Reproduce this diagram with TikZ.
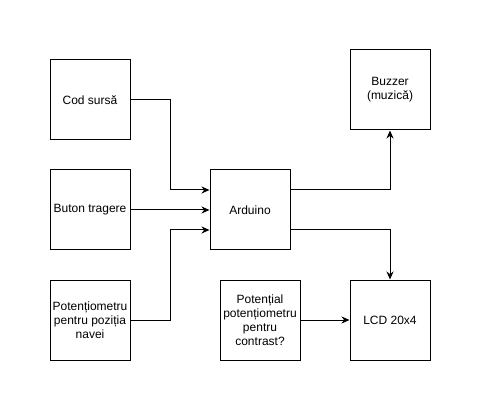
\documentclass[tikz,border=0pt]{standalone}
\usepackage{fontspec}
\setmainfont{Liberation Sans}
\usepackage{tikz}
\usetikzlibrary{arrows.meta}

\begin{document}
\begin{tikzpicture}[x=1pt, y=-1pt, line width=1pt, >={Stealth[length=8pt,width=7pt]},
  blok/.style={draw, minimum width=80pt, minimum height=80pt, inner sep=1pt, align=center, font=\fontsize{12}{14}\selectfont}]
\useasboundingbox (0,0) rectangle (481,411);

% intrari
\node[blok] (cod) at (90,100) {Cod sursă};
\node[blok] (buton) at (90,210) {Buton tragere};
\node[blok] (potnava) at (90,320) {Potențiometru\\pentru poziția\\navei};

% placa
\node[blok] (ard) at (250,210) {Arduino};

% iesiri
\node[blok] (buzzer) at (390,90) {Buzzer\\(muzică)};
\node[blok] (lcd) at (390,320) {LCD 20x4};
\node[blok] (potlcd) at (260,320) {Potențial\\potențiometru\\pentru\\contrast?};

\draw[->] (cod.east) -- (170,100) |- ([yshift=20pt]ard.west);
\draw[->] (buton) -- (ard);
\draw[->] (potnava.east) -- (170,320) |- ([yshift=-20pt]ard.west);
\draw[->] ([yshift=20pt]ard.east) -| (buzzer.south);
\draw[->] ([yshift=-20pt]ard.east) -| (lcd.north);
\draw[->] (potlcd) -- (lcd);
\end{tikzpicture}
\end{document}
